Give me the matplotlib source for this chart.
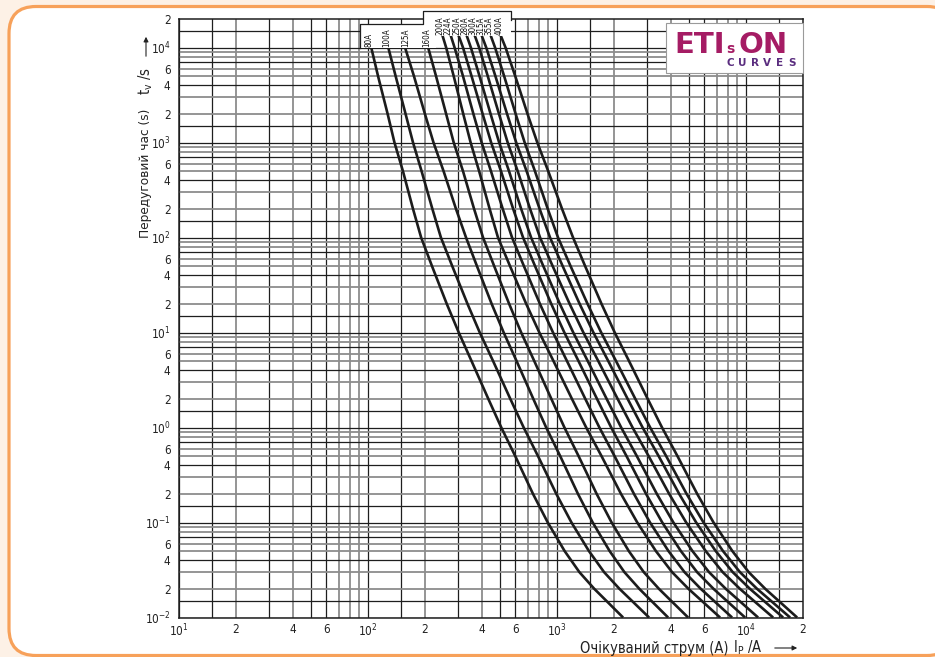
"""Pre-arcing time-current curves, ETI gG fuses"""

import matplotlib
matplotlib.use('Agg')
import matplotlib.pyplot as plt
import matplotlib.transforms as mtransforms
from matplotlib import font_manager
from matplotlib.patches import FancyBboxPatch, Polygon, Rectangle
from matplotlib.lines import Line2D

# narrow face if there is one
names = {f.name for f in font_manager.fontManager.ttflist}
has_condensed = any(f.name == 'DejaVu Sans' and f.stretch in ('condensed', 'semi-condensed')
                    for f in font_manager.fontManager.ttflist)
if 'Liberation Sans Narrow' in names:
    plt.rcParams['font.family'] = ['Liberation Sans Narrow', 'DejaVu Sans']
    SHRINK = 1.0
else:
    plt.rcParams['font.family'] = ['DejaVu Sans']
    plt.rcParams['font.stretch'] = 'condensed'
    SHRINK = 1.0 if has_condensed else 0.86
plt.rcParams['mathtext.default'] = 'regular'

# pre-arcing time, s (shared by all curves)
times = [1.4e4, 1e4, 5e3, 2e3, 1e3, 500, 200, 100, 50, 20, 10, 5, 2, 1,
         0.5, 0.2, 0.1, 0.05, 0.03, 0.02, 0.015, 0.01]

i_80 = [99, 104, 113, 127, 138, 153, 173, 191, 218, 261, 302, 353, 433, 507,
        601, 746, 893, 1097, 1313, 1575, 1822, 2235]
i_100 = [121, 128, 140, 158, 173, 192, 219, 243, 279, 336, 390, 459, 566, 666,
         793, 991, 1192, 1475, 1774, 2140, 2486, 3067]
i_125 = [148, 157, 175, 200, 222, 251, 292, 330, 377, 451, 522, 611, 749, 876,
         1039, 1290, 1544, 1898, 2272, 2726, 3151, 3868]
i_160 = [197, 208, 229, 259, 284, 318, 364, 406, 465, 558, 646, 758, 933, 1094,
         1300, 1620, 1944, 2397, 2877, 3462, 4010, 4935]
i_200 = [246, 259, 284, 319, 349, 387, 440, 487, 564, 687, 806, 958, 1199, 1426,
         1719, 2180, 2657, 3334, 4062, 4962, 5821, 7284]
i_224 = [272, 287, 318, 361, 399, 447, 516, 578, 668, 812, 952, 1129, 1411, 1675,
         2015, 2552, 3103, 3886, 4726, 5763, 6751, 8431]
i_250 = [299, 318, 353, 404, 448, 505, 586, 661, 765, 932, 1093, 1299, 1627, 1934,
         2331, 2957, 3603, 4521, 5508, 6730, 7894, 9879]
i_280 = [330, 350, 389, 445, 494, 557, 646, 729, 846, 1035, 1218, 1454, 1830, 2184,
         2643, 3372, 4126, 5204, 6370, 7815, 9202, 11575]
i_300 = [364, 387, 430, 493, 548, 619, 720, 813, 948, 1166, 1378, 1653, 2092, 2508,
         3052, 3918, 4822, 6117, 7524, 9287, 10980, 13900]
i_315 = [396, 422, 472, 544, 608, 690, 809, 918, 1071, 1317, 1557, 1867, 2363, 2835,
         3448, 4426, 5445, 6910, 8502, 10490, 12400, 15700]
i_355 = [442, 470, 525, 604, 674, 764, 893, 1012, 1179, 1450, 1712, 2052, 2595, 3109,
         3778, 4845, 5956, 7552, 9284, 11440, 13520, 17090]
i_400 = [499, 534, 601, 698, 786, 898, 1063, 1215, 1408, 1719, 2019, 2404, 3016, 3592,
         4335, 5512, 6728, 8462, 10330, 12640, 14850, 18620]

ratings = ['80A', '100A', '125A', '160A', '200A', '224A', '250A', '280A',
           '300A', '315A', '355A', '400A']
curves = [i_80, i_100, i_125, i_160, i_200, i_224, i_250, i_280,
          i_300, i_315, i_355, i_400]

x_ticks = [10, 20, 40, 60, 100, 200, 400, 600, 1000, 2000, 4000, 6000, 10000, 20000]
x_labels = ['$10^{1}$', '2', '4', '6', '$10^{2}$', '2', '4', '6',
            '$10^{3}$', '2', '4', '6', '$10^{4}$', '2']
y_ticks = [0.01, 0.02, 0.04, 0.06, 0.1, 0.2, 0.4, 0.6, 1, 2, 4, 6, 10, 20, 40, 60,
           100, 200, 400, 600, 1000, 2000, 4000, 6000, 10000, 20000]
y_labels = ['$10^{-2}$', '2', '4', '6', '$10^{-1}$', '2', '4', '6',
            '$10^{0}$', '2', '4', '6', '$10^{1}$', '2', '4', '6',
            '$10^{2}$', '2', '4', '6', '$10^{3}$', '2', '4', '6', '$10^{4}$', '2']

W, H = 935, 657
fig = plt.figure(figsize=(W / 100, H / 100), dpi=100)
fig.patch.set_facecolor('#fdf1e6')
# pixel coordinates, origin top-left
pix = mtransforms.Affine2D().scale(1, -1).translate(0, H)

frame = FancyBboxPatch((9, 1.5), 945, 649, boxstyle='round,pad=0,rounding_size=27',
                       transform=mtransforms.IdentityTransform(),
                       facecolor='white', edgecolor='#f7a15a', linewidth=2.3,
                       zorder=-5)
fig.patches.append(frame)

ax = fig.add_axes([179 / W, 1 - 617.5 / H, 624 / W, 598.5 / H])
ax.set_xscale('log')
ax.set_yscale('log')
ax.set_xlim(10, 20000)
ax.set_ylim(0.01, 20000)
ax.patch.set_alpha(0)

# grid: 1, 1.5, 2 ... 9 in every decade, some lines darker than others
steps = [1, 1.5, 2, 3, 4, 5, 6, 7, 8, 9]
x_dark = [1, 1.5, 3, 5, 6]
y_dark = [1, 1.5, 4, 7]
for dec in [10, 100, 1000, 10000]:
    for m in steps:
        v = m * dec
        if v < 20000:
            dark = m in x_dark
            ax.axvline(v, color='#1e1e1e' if dark else '#8c8c8c',
                       lw=0.9 if dark else 1.3, zorder=1)
for dec in [0.01, 0.1, 1, 10, 100, 1000, 10000]:
    for m in steps:
        v = m * dec
        if v < 20000:
            dark = m in y_dark
            ax.axhline(v, color='#1e1e1e' if dark else '#8c8c8c',
                       lw=0.9 if dark else 1.3, zorder=1)

for cur in curves:
    ax.plot(cur, times, color='#1c1c1c', lw=1.9, zorder=3,
            solid_joinstyle='round', solid_capstyle='butt')

ax.set_xticks(x_ticks)
ax.set_xticklabels(x_labels)
ax.set_yticks(y_ticks)
ax.set_yticklabels(y_labels)
ax.minorticks_off()
ax.tick_params(length=0, labelsize=8.5 * SHRINK, colors='#222222')
ax.tick_params(axis='x', pad=4)
ax.tick_params(axis='y', pad=6)
for s in ax.spines.values():
    s.set_linewidth(1.1)
    s.set_color('#1e1e1e')

# label box above the curves
box = Polygon([(360, 48), (360, 24), (423, 24), (423, 11), (511, 11), (511, 36),
               (436, 36), (436, 48)], closed=True,
              facecolor='white', edgecolor='none', zorder=5)
box.set_transform(pix)
fig.patches.append(box)
fig.lines.append(Line2D([360, 360, 423, 423, 511, 511], [48, 24, 24, 11, 11, 20],
                        color='#1e1e1e', lw=0.9, transform=pix, zorder=6))

label_x = [369, 387, 406, 427, 440, 448, 456.5, 465, 473, 481, 489, 499]
label_y = [47, 47, 47, 47, 35, 35, 35, 35, 35, 35, 35, 35]
for name, lx, ly in zip(ratings, label_x, label_y):
    fig.text(lx, ly, name, transform=pix, rotation=90, ha='center', va='bottom',
             fontsize=5.8, color='#111111', zorder=7)

# axis titles
fig.text(146, 173, 'Передуговий час (s)', transform=pix, rotation=90,
         ha='center', va='center', fontsize=9.7 * SHRINK, color='#222222')
fig.text(146, 95, 't$_v$ /s', transform=pix, rotation=90,
         ha='center', va='bottom', fontsize=10.5 * SHRINK, color='#222222')
ax.annotate('', xy=(146, 34), xytext=(146, 59), xycoords=pix, textcoords=pix,
            arrowprops=dict(arrowstyle='-|>', lw=0.8, color='#222222',
                            mutation_scale=7))
fig.text(729, 648, 'Очікуваний струм (A)', transform=pix, ha='right',
         va='center', fontsize=10.5 * SHRINK, color='#222222')
fig.text(733, 648, 'I$_P$ /A', transform=pix, ha='left',
         va='center', fontsize=10.5 * SHRINK, color='#222222')
ax.annotate('', xy=(800, 648), xytext=(772, 648), xycoords=pix, textcoords=pix,
            arrowprops=dict(arrowstyle='-|>', lw=0.8, color='#222222',
                            mutation_scale=7))

# logo
logo = Rectangle((666, 23), 137, 50, facecolor='white',
                 edgecolor='#9a9a9a', lw=0.8, zorder=5)
logo.set_transform(pix)
fig.patches.append(logo)
logo_font = dict(transform=pix, fontweight='bold', family='DejaVu Sans',
                 fontstretch='normal', color='#a51c64', ha='left',
                 va='baseline', zorder=7)
fig.text(674, 53, 'ETI', fontsize=21, **logo_font)
fig.text(726, 53, 's', fontsize=10, **logo_font)
fig.text(738, 53, 'ON', fontsize=21, **logo_font)
for k, ch in enumerate('CURVES'):
    fig.text(730 + k * 12.4, 66, ch, transform=pix, fontsize=7.5, fontweight='bold',
             family='DejaVu Sans', fontstretch='normal', color='#5a2d7f',
             ha='center', va='baseline', zorder=7)

plt.savefig('out.png', dpi=100, facecolor=fig.get_facecolor())
